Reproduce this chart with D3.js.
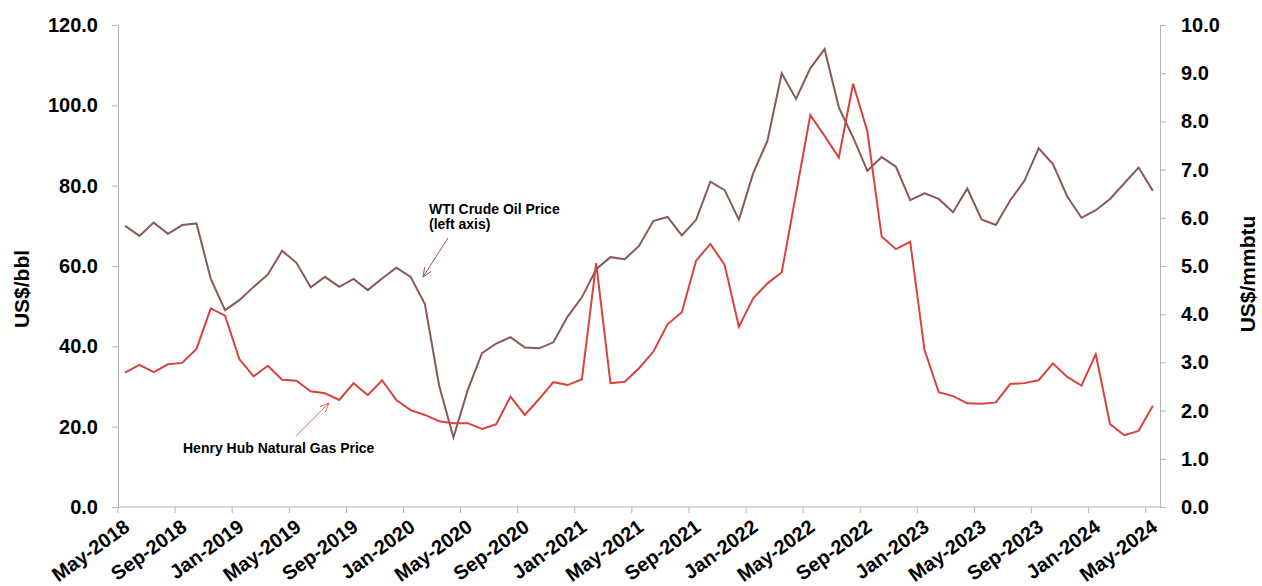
<!DOCTYPE html>
<html>
<head>
<meta charset="utf-8">
<script src="https://cdn.jsdelivr.net/npm/d3@7"></script>
<style>
    body { margin: 0; background: #fff; }
    svg text { font-family: "Liberation Sans", Arial, sans-serif; font-weight: bold; fill: #000; }
</style>
</head>
<body>
<svg id="chart" width="1262" height="586"></svg>
<script>
// monthly averages, May-2018 .. May-2024
const startMonth = new Date(2018, 4, 1);
const endMonth = new Date(2024, 5, 1);

const wtiPrice = [
    70.0, 67.5, 70.8, 68.0, 70.2, 70.6, 56.8, 49.0,
    51.5, 54.8, 57.9, 63.8, 60.8, 54.7, 57.3, 54.8, 56.8, 54.0, 56.9, 59.6,
    57.3, 50.5, 30.2, 17.3, 29.1, 38.3, 40.7, 42.3, 39.7, 39.5, 41.0, 47.4,
    52.2, 59.2, 62.2, 61.7, 65.0, 71.2, 72.2, 67.6, 71.5, 81.0, 78.9, 71.5,
    83.1, 91.2, 108.0, 101.6, 109.2, 114.0, 99.5, 92.0, 83.7, 87.1, 84.7, 76.4,
    78.1, 76.7, 73.4, 79.3, 71.6, 70.2, 76.3, 81.2, 89.3, 85.4, 77.3, 72.0,
    73.9, 76.7, 80.6, 84.5, 78.7
];

const henryHubPrice = [
    2.79, 2.95, 2.80, 2.96, 2.99, 3.28, 4.12, 3.97,
    3.07, 2.71, 2.93, 2.64, 2.62, 2.40, 2.36, 2.22, 2.57, 2.32, 2.63, 2.22,
    2.01, 1.91, 1.78, 1.74, 1.74, 1.62, 1.72, 2.29, 1.91, 2.24, 2.59, 2.53,
    2.65, 5.06, 2.57, 2.60, 2.88, 3.22, 3.79, 4.04, 5.11, 5.46, 5.02, 3.74,
    4.33, 4.64, 4.87, 6.50, 8.13, 7.70, 7.25, 8.78, 7.79, 5.61, 5.35, 5.50,
    3.26, 2.38, 2.30, 2.15, 2.14, 2.17, 2.55, 2.57, 2.63, 2.98, 2.70, 2.52,
    3.17, 1.72, 1.49, 1.58, 2.10
];

const tickLabels = [
    'May-2018', 'Sep-2018', 'Jan-2019', 'May-2019', 'Sep-2019', 'Jan-2020', 'May-2020',
    'Sep-2020', 'Jan-2021', 'May-2021', 'Sep-2021', 'Jan-2022', 'May-2022', 'Sep-2022',
    'Jan-2023', 'May-2023', 'Sep-2023', 'Jan-2024', 'May-2024'
];
const leftTicks = [0, 20, 40, 60, 80, 100, 120];
const rightTicks = [0, 1, 2, 3, 4, 5, 6, 7, 8, 9, 10];

const COLORS = {wti: '#8b5757', hh: '#d8433c', axis: '#b3b3b3'};

const svg = d3.select('#chart');
const plot = {left: 118, right: 1160, top: 25, bottom: 507};

const months = d3.timeMonths(startMonth, endMonth);
const fmtMonth = d3.timeFormat('%b-%Y');

const x = d3.scaleBand()
    .domain(months.map(fmtMonth))
    .range([plot.left, plot.right]);
const cx = (d, i) => x(fmtMonth(months[i])) + x.bandwidth() / 2;

const yLeft = d3.scaleLinear().domain([0, 120]).range([plot.bottom, plot.top]);
const yRight = d3.scaleLinear().domain([0, 10]).range([plot.bottom, plot.top]);

function styleAxis(g) {
    g.select('.domain').attr('stroke', COLORS.axis);
    g.selectAll('.tick line').attr('stroke', COLORS.axis);
    g.selectAll('text').attr('font-size', 20).attr('fill', '#000');
}

// left axis
svg.append('g')
    .attr('transform', `translate(${plot.left},0)`)
    .call(d3.axisLeft(yLeft).tickValues(leftTicks).tickFormat(d3.format('.1f')).tickSizeOuter(0).tickSize(6).tickPadding(14))
    .call(styleAxis);

// right axis
svg.append('g')
    .attr('transform', `translate(${plot.right},0)`)
    .call(d3.axisRight(yRight).tickValues(rightTicks).tickFormat(d3.format('.1f')).tickSizeOuter(0).tickSize(6).tickPadding(15))
    .call(styleAxis);

// bottom axis: ticks sit on the band edges every 4 months
const bottom = svg.append('g')
    .attr('transform', `translate(0,${plot.bottom})`);

bottom.append('line')
    .attr('x1', plot.left).attr('x2', plot.right)
    .attr('stroke', COLORS.axis);

bottom.selectAll('line.tick')
    .data(tickLabels)
    .join('line')
    .attr('class', 'tick')
    .attr('x1', d => x(d)).attr('x2', d => x(d))
    .attr('y1', 0).attr('y2', 6)
    .attr('stroke', COLORS.axis);

bottom.selectAll('text')
    .data(tickLabels)
    .join('text')
    .attr('transform', d => `translate(${x(d) + 9},17) rotate(-36)`)
    .attr('text-anchor', 'end')
    .attr('dy', '0.35em')
    .attr('font-size', 20)
    .text(d => d);

// axis titles
svg.append('text')
    .attr('transform', 'translate(29,289) rotate(-90)')
    .attr('text-anchor', 'middle')
    .attr('font-size', 21)
    .text('US$/bbl');

svg.append('text')
    .attr('transform', 'translate(1255,274) rotate(-90)')
    .attr('text-anchor', 'middle')
    .attr('font-size', 21)
    .text('US$/mmbtu');

// series
const wtiLine = d3.line().x(cx).y(d => yLeft(d));
const hhLine = d3.line().x(cx).y(d => yRight(d));

svg.append('path')
    .datum(wtiPrice)
    .attr('d', wtiLine)
    .attr('fill', 'none')
    .attr('stroke', COLORS.wti)
    .attr('stroke-width', 2);

svg.append('path')
    .datum(henryHubPrice)
    .attr('d', hhLine)
    .attr('fill', 'none')
    .attr('stroke', COLORS.hh)
    .attr('stroke-width', 2);

// annotations with arrows
function drawArrow(x1, y1, x2, y2, color) {
    const ang = Math.atan2(y2 - y1, x2 - x1);
    const len = 10, spread = 0.4;
    svg.append('line')
        .attr('x1', x1).attr('y1', y1).attr('x2', x2).attr('y2', y2)
        .attr('stroke', color).attr('stroke-width', 1);
    svg.append('path')
        .attr('d', `M${x2 - len * Math.cos(ang - spread)},${y2 - len * Math.sin(ang - spread)}L${x2},${y2}L${x2 - len * Math.cos(ang + spread)},${y2 - len * Math.sin(ang + spread)}`)
        .attr('fill', 'none')
        .attr('stroke', color).attr('stroke-width', 1);
}

const wtiNote = svg.append('text').attr('x', 429).attr('font-size', 14);
wtiNote.append('tspan').attr('x', 429).attr('y', 214).text('WTI Crude Oil Price');
wtiNote.append('tspan').attr('x', 429).attr('y', 229).text('(left axis)');
drawArrow(448, 238, 423, 277, COLORS.wti);

svg.append('text')
    .attr('x', 183).attr('y', 453)
    .attr('font-size', 14)
    .text('Henry Hub Natural Gas Price');
drawArrow(296, 436, 329, 403, '#e0706a');
</script>
</body>
</html>
